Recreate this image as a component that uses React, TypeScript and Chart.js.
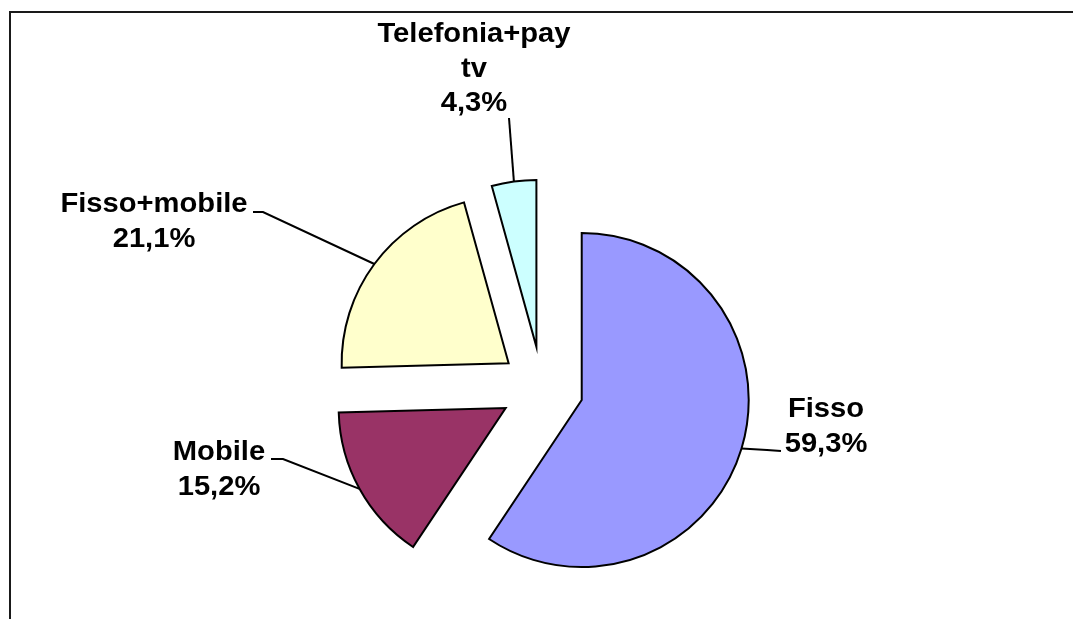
import React, { useEffect, useRef } from "react";
import { Chart, registerables } from "chart.js";

Chart.register(...registerables);

const categories = ["Fisso", "Mobile", "Fisso+mobile", "Telefonia+pay tv"];
const shares = [59.3, 15.2, 21.1, 4.3];
const sliceColors = ["#9999FF", "#993366", "#FFFFCC", "#CCFFFF"];

// layout of callouts (page pixel positions; styling, not data)
const calloutLayout = [
  { elbow: [[767, 450], [781, 451]], textX: 826, baseline: 417 },
  { elbow: [[283, 459], [271, 459]], textX: 219, baseline: 460 },
  { elbow: [[263, 212], [253, 212]], textX: 154, baseline: 212 },
  { elbow: [[509, 118]], textX: 474, baseline: 42 },
];

const EXPLODE = 41.5;
const RADIUS = 167;
const LINE_H = 34.5;
const FONT = 'bold 27px "Liberation Sans", Arial, sans-serif';
const STRETCH = 1.08;

const explodePlugin = {
  id: "explodeSlices",
  beforeDatasetDraw(chart: any, args: any) {
    const ctx = chart.ctx;
    args.meta.data.forEach((arc: any) => {
      const p = arc.getProps(["startAngle", "endAngle"], true);
      const a = (p.startAngle + p.endAngle) / 2;
      ctx.save();
      ctx.translate(Math.cos(a) * EXPLODE, Math.sin(a) * EXPLODE);
      arc.draw(ctx);
      ctx.restore();
    });
    return false;
  },
};

const framePlugin = {
  id: "frame",
  afterDraw(chart: any) {
    const ctx = chart.ctx;
    ctx.save();
    ctx.fillStyle = "#1a1a1a";
    ctx.fillRect(9, 11, chart.width - 9, 2);
    ctx.fillRect(9, 11, 2, chart.height - 11);
    ctx.restore();
  },
};

const calloutPlugin = {
  id: "callouts",
  afterDatasetsDraw(chart: any) {
    const ctx = chart.ctx;
    const meta = chart.getDatasetMeta(0);
    meta.data.forEach((arc: any, i: number) => {
      const p = arc.getProps(["x", "y", "startAngle", "endAngle", "outerRadius"], true);
      const a = (p.startAngle + p.endAngle) / 2;
      const cx = p.x + Math.cos(a) * EXPLODE;
      const cy = p.y + Math.sin(a) * EXPLODE;
      const ex = cx + Math.cos(a) * p.outerRadius;
      const ey = cy + Math.sin(a) * p.outerRadius;
      const lay = calloutLayout[i];
      ctx.save();
      ctx.strokeStyle = "#000";
      ctx.lineWidth = 2;
      ctx.beginPath();
      ctx.moveTo(ex, ey);
      lay.elbow.forEach((pt) => ctx.lineTo(pt[0], pt[1]));
      ctx.stroke();
      const lines = categories[i].split(" ");
      lines.push(shares[i].toFixed(1).replace(".", ",") + "%");
      ctx.fillStyle = "#000";
      ctx.font = FONT;
      ctx.textAlign = "center";
      ctx.textBaseline = "alphabetic";
      lines.forEach((t, k) => {
        ctx.save();
        ctx.translate(lay.textX, lay.baseline + k * LINE_H);
        ctx.scale(STRETCH, 1);
        ctx.fillText(t, 0, 0);
        ctx.restore();
      });
      ctx.restore();
    });
  },
};

export default function App() {
  const ref = useRef<HTMLCanvasElement | null>(null);
  useEffect(() => {
    if (!ref.current) return;
    const chart = new Chart(ref.current, {
      type: "pie",
      data: {
        labels: categories,
        datasets: [
          {
            data: shares,
            backgroundColor: sliceColors,
            borderColor: "#000",
            borderWidth: 2,
            borderJoinStyle: "miter",
          } as any,
        ],
      },
      options: {
        responsive: false,
        animation: false,
        radius: RADIUS,
        layout: { padding: { left: 11, right: 0, top: 157, bottom: 0 } },
        plugins: {
          legend: { display: false },
          tooltip: { enabled: false },
        },
        events: [],
      } as any,
      plugins: [explodePlugin, calloutPlugin, framePlugin],
    });
    return () => chart.destroy();
  }, []);
  return (
    <div style={{ position: "absolute", left: 0, top: 0, width: 1073, height: 619, background: "#fff" }}>
      <canvas ref={ref} width={1073} height={619} />
    </div>
  );
}
